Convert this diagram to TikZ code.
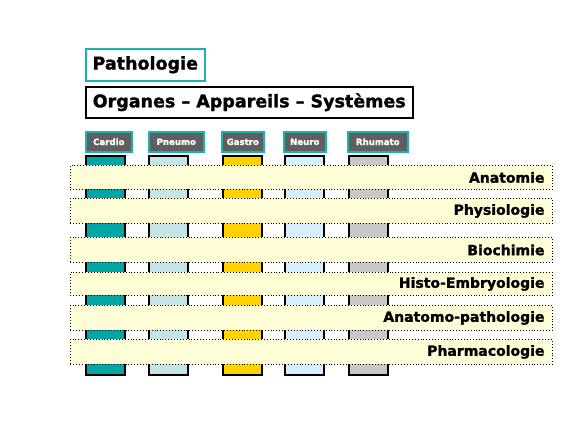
\documentclass[tikz,border=0pt]{standalone}
\usepackage{fontspec}
\setmainfont{DejaVu Sans}[BoldFeatures={FakeBold=1.5}]
\definecolor{tealc}{HTML}{00A6A6}
\definecolor{tealb}{HTML}{19B3B3}
\definecolor{pneumoc}{HTML}{C4E4E8}
\definecolor{gastroc}{HTML}{FFD200}
\definecolor{neuroc}{HTML}{D6EEFF}
\definecolor{rhumatoc}{HTML}{C8C8C8}
\definecolor{bandc}{HTML}{FFFDD6}
\definecolor{headc}{HTML}{5F5F5F}
\begin{document}
\begin{tikzpicture}[x=1pt,y=-1pt,
  titlebox/.style={draw=#1, line width=1.5pt, fill=white, inner sep=0pt, anchor=north west,
    font=\fontsize{17.5}{19}\selectfont\bfseries},
  colbar/.style={draw=black, fill=#1, line width=1.7pt, minimum width=39pt, minimum height=219pt,
    inner sep=0pt, anchor=north west},
  head/.style={draw=tealb, fill=headc, line width=1.6pt, minimum height=20pt, inner sep=0pt,
    anchor=north west, text=white, font=\fontsize{8.6}{9}\selectfont\bfseries},
  band/.style={draw=black, dotted, line width=0.9pt, fill=bandc, inner xsep=8pt, inner ysep=0pt,
    text width=466pt, align=right, anchor=north west,
    font=\fontsize{14}{16}\selectfont\bfseries}
]
\useasboundingbox (0,0) rectangle (580,440);
\node[titlebox=tealb, minimum width=119pt, minimum height=32pt] (patho) at (85,48) {Pathologie};
\node[titlebox=black, minimum width=327pt, minimum height=31pt] (organes) at (85,86) {Organes – Appareils – Systèmes};
% headers
\node[head, minimum width=46pt] (hcardio) at (85,131) {Cardio};
\node[head, minimum width=55pt] (hpneumo) at (148,131) {Pneumo};
\node[head, minimum width=42pt] (hgastro) at (221,131) {Gastro};
\node[head, minimum width=42pt] (hneuro) at (283,131) {Neuro};
\node[head, minimum width=60pt] (hrhumato) at (347,131) {Rhumato};
% columns
\node[colbar=tealc] (ccardio) at (85,155) {};
\node[colbar=pneumoc] (cpneumo) at (148,155) {};
\node[colbar=gastroc] (cgastro) at (222,155) {};
\node[colbar=neuroc] (cneuro) at (284,155) {};
\node[colbar=rhumatoc] (crhumato) at (348,155) {};
% bands
\node[band, minimum height=24pt] (b1) at (70,165) {Anatomie};
\node[band, minimum height=25pt] (b2) at (70,198) {Physiologie};
\node[band, minimum height=25pt] (b3) at (70,237) {Biochimie\hspace*{4pt}};
\node[band, minimum height=23pt] (b4) at (70,272) {Histo-Embryologie};
\node[band, minimum height=25pt] (b5) at (70,305) {Anatomo-pathologie};
\node[band, minimum height=25pt] (b6) at (70,339) {Pharmacologie};
\end{tikzpicture}
\end{document}
